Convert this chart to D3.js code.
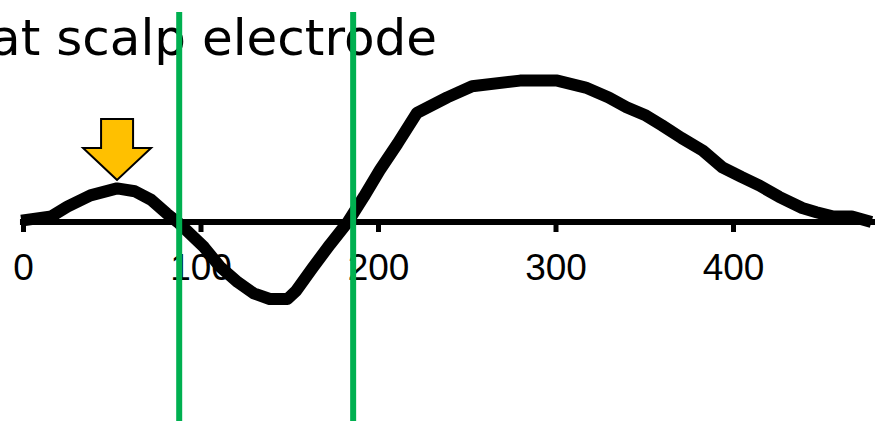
<!DOCTYPE html>
<html lang="en">
  <head>
    <meta charset="UTF-8" />
    <title>at scalp electrode</title>
    <style type="text/css">
      html,
      body {
        margin: 0;
        padding: 0;
        background: #fff;
        overflow: hidden;
      }

      svg {
        display: block;
      }

      .title {
        font-family: "DejaVu Sans", sans-serif;
        font-size: 50px;
        fill: #000;
      }

      .tick text {
        font-family: "Liberation Sans", Arial, sans-serif;
        font-size: 37px;
        fill: #000;
      }
    </style>
  </head>
  <body>
    <div id="chart"></div>

    <script src="https://cdn.jsdelivr.net/npm/d3@7/dist/d3.min.js"></script>
    <script>
      // === Data === //

      // time (ms) and amplitude of the waveform
      var times = [
        -1, 16, 25, 38, 53, 63, 72, 81, 88, 102, 111, 121, 130, 139, 149, 154,
        163, 173, 183, 192, 201, 211, 222, 239, 253, 280, 301, 317, 330, 340,
        351, 360, 371, 383, 394, 405, 415, 426, 439, 447, 456, 467, 478
      ];
      var amplitudes = [
        0.1, 0.4, 1.1, 1.9, 2.4, 2.2, 1.6, 0.6, -0.1, -1.8, -3.2, -4.3, -5.1,
        -5.5, -5.5, -4.9, -3.3, -1.6, 0, 1.8, 3.7, 5.6, 7.8, 8.9, 9.7, 10.1,
        10.1, 9.6, 8.9, 8.2, 7.6, 6.9, 6.0, 5.1, 3.9, 3.2, 2.6, 1.8, 1.0, 0.7,
        0.4, 0.4, 0
      ];

      var tickValues = [0, 100, 200, 300, 400];
      var markerTimes = [88, 186]; // green vertical lines
      var arrowPoint = [53, 3.0]; // tip of the yellow arrow
      var axisExtent = [-1.7, 480];
      var titleText = "at scalp electrode";

      // === Canvas === //

      var width = 876,
        height = 421;

      var svg = d3
        .select("#chart")
        .append("svg")
        .attr("width", width)
        .attr("height", height);

      var x = d3.scaleLinear().domain([0, 400]).range([23, 733]);
      var y = d3.scaleLinear().domain([-5, 10]).range([292, 82]);

      // title, partly cut off on the left like the original slide
      svg
        .append("text")
        .attr("class", "title")
        .attr("x", 437)
        .attr("y", 55)
        .attr("text-anchor", "end")
        .text(titleText);

      // === Axis === //

      var axis = d3
        .axisBottom(x)
        .tickValues(tickValues)
        .tickSize(10)
        .tickPadding(22)
        .tickSizeOuter(0);

      var gAxis = svg
        .append("g")
        .attr("transform", "translate(0," + y(0) + ")")
        .call(axis);

      gAxis.select(".domain").remove();
      gAxis.selectAll(".tick line").attr("stroke", "#000").attr("stroke-width", 5);

      gAxis
        .append("line")
        .attr("x1", x(axisExtent[0]))
        .attr("x2", x(axisExtent[1]))
        .attr("stroke", "#000")
        .attr("stroke-width", 6);

      // === Waveform === //

      var points = times.map(function(t, i) {
        return [t, amplitudes[i]];
      });

      var line = d3
        .line()
        .x(function(d) {
          return x(d[0]);
        })
        .y(function(d) {
          return y(d[1]);
        });

      svg
        .append("path")
        .datum(points)
        .attr("d", line)
        .attr("fill", "none")
        .attr("stroke", "#000")
        .attr("stroke-width", 12)
        .attr("stroke-linejoin", "round")
        .attr("stroke-linecap", "butt");

      // === Arrow === //

      var tipX = x(arrowPoint[0]),
        tipY = y(arrowPoint[1]);
      var shaftW = 16,
        headW = 34,
        headH = 32,
        shaftH = 29;

      var arrow = d3.path();
      arrow.moveTo(tipX, tipY);
      arrow.lineTo(tipX - headW, tipY - headH);
      arrow.lineTo(tipX - shaftW, tipY - headH);
      arrow.lineTo(tipX - shaftW, tipY - headH - shaftH);
      arrow.lineTo(tipX + shaftW, tipY - headH - shaftH);
      arrow.lineTo(tipX + shaftW, tipY - headH);
      arrow.lineTo(tipX + headW, tipY - headH);
      arrow.closePath();

      svg
        .append("path")
        .attr("d", arrow.toString())
        .attr("fill", "#ffc000")
        .attr("stroke", "#000")
        .attr("stroke-width", 2)
        .attr("stroke-linejoin", "miter");

      // === Green markers === //

      svg
        .selectAll("line.marker")
        .data(markerTimes)
        .enter()
        .append("line")
        .attr("class", "marker")
        .attr("x1", function(d) {
          return x(d);
        })
        .attr("x2", function(d) {
          return x(d);
        })
        .attr("y1", 12)
        .attr("y2", height)
        .attr("stroke", "#00b050")
        .attr("stroke-width", 6);
    </script>
  </body>
</html>
